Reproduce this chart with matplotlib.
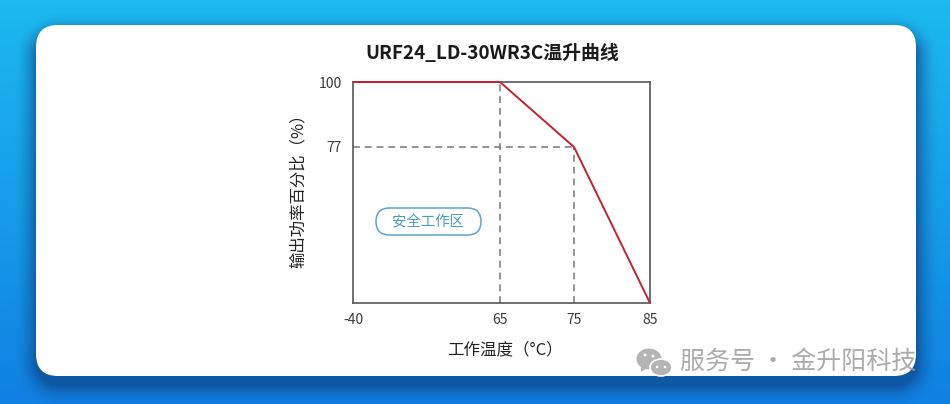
import numpy as np
import matplotlib
matplotlib.use('Agg')
import matplotlib.pyplot as plt
from matplotlib.patches import FancyBboxPatch, Ellipse, Polygon

plt.rcParams['font.family'] = ['Noto Sans CJK SC', 'DejaVu Sans']

# data
temps = [-40, 65, 75, 85]
power = [100, 100, 77, 0]
x_ticks = [-40, 65, 75, 85]
x_labels = ['-40', '65', '75', '85']
y_ticks = [77, 100]
y_labels = ['77', '100']
title = 'URF24_LD-30WR3C温升曲线'
xlabel = '工作温度（°C）'
ylabel = '输出功率百分比（%）'
zone_label = '安全工作区'
watermark = '服务号 · 金升阳科技'

# the axes are not linear, these are the spacings read from the picture
x_scale_in = [-40, 65, 75, 85]
x_scale_out = [0, 147, 221, 297]
y_scale_in = [0, 77, 100]
y_scale_out = [0, 156, 221]

W, H = 950, 404
fig = plt.figure(figsize=(W / 100, H / 100), dpi=100)

# %% background with gradient and card shadow
bg = fig.add_axes([0, 0, 1, 1])
bg.set_xlim(0, W)
bg.set_ylim(H, 0)
bg.axis('off')

yy, xx = np.mgrid[0:H, 0:W]
t = (yy / (H - 1))[..., None]
top = np.array([28, 186, 240]) / 255
bottom = np.array([16, 128, 226]) / 255
img = top * (1 - t) + bottom * t


def card_dist(dx, dy):
    cx, cy = 476 + dx, 200.5 + dy
    qx = np.abs(xx - cx) - (440 - 22)
    qy = np.abs(yy - cy) - (175.5 - 22)
    return np.hypot(np.maximum(qx, 0), np.maximum(qy, 0)) + np.minimum(np.maximum(qx, qy), 0) - 22


shadow = np.clip(1 - card_dist(0, 9) / 24, 0, 1) ** 2 * 0.62
shadow = shadow[..., None]
img = img * (1 - shadow) + np.array([12, 62, 125]) / 255 * shadow
bg.imshow(img, extent=(0, W, H, 0), aspect='auto', interpolation='bilinear', zorder=0)
bg.set_xlim(0, W)
bg.set_ylim(H, 0)

card = FancyBboxPatch((36 + 22, 25 + 22), 880 - 44, 351 - 44,
                      boxstyle='round,pad=22,rounding_size=22',
                      fc='white', ec='none', zorder=1)
bg.add_patch(card)

# %% titles and labels
bg.text(492.5, 53.5, title, fontsize=13.6, fontweight='bold', color='#1a1a1a',
        ha='center', va='center', zorder=3)
bg.text(504.5, 350, xlabel, fontsize=11.9, color='#222222', ha='center', va='center', zorder=3)
bg.text(298, 187, ylabel, fontsize=11.8, color='#222222', rotation=90,
        ha='center', va='center', zorder=3)

# %% main chart
ax = fig.add_axes([353 / W, (H - 303) / H, 297 / W, 221 / H], facecolor='none')
ax.set_xscale('function', functions=(lambda v: np.interp(v, x_scale_in, x_scale_out),
                                     lambda v: np.interp(v, x_scale_out, x_scale_in)))
ax.set_yscale('function', functions=(lambda v: np.interp(v, y_scale_in, y_scale_out),
                                     lambda v: np.interp(v, y_scale_out, y_scale_in)))
ax.set_xlim(-40, 85)
ax.set_ylim(0, 100)

ax.plot([temps[1], temps[1]], [0, power[1]], color='#777777', lw=1.1, dashes=(4.5, 3.2), zorder=2)
ax.plot([temps[2], temps[2]], [0, power[2]], color='#777777', lw=1.1, dashes=(4.5, 3.2), zorder=2)
ax.plot([temps[0], temps[2]], [power[2], power[2]], color='#777777', lw=1.1, dashes=(4.5, 3.2), zorder=2)
ax.plot(temps, power, color='#c4222e', lw=1.4, zorder=4, clip_on=False, solid_capstyle='butt')

ax.set_xticks(x_ticks, x_labels)
ax.set_yticks(y_ticks, y_labels)
ax.minorticks_off()
ax.tick_params(axis='both', length=0, labelsize=10, labelcolor='#3a3a3a')
ax.tick_params(axis='x', pad=7)
ax.tick_params(axis='y', pad=8)
for s in ax.spines.values():
    s.set_color('#565656')
    s.set_linewidth(1.2)

# %% pill label
over = fig.add_axes([0, 0, 1, 1], facecolor='none')
over.set_xlim(0, W)
over.set_ylim(H, 0)
over.axis('off')
pill = FancyBboxPatch((376 + 13.5, 208 + 13.5), 105 - 27, 0,
                      boxstyle='round,pad=13.5,rounding_size=13.5',
                      fc='white', ec='#5aa5cb', lw=1.1, zorder=2)
over.add_patch(pill)
over.text(428, 222, zone_label, fontsize=10.4, color='#4a9cc6', ha='center', va='center', zorder=3)

# %% watermark
over.text(680, 362, watermark, fontsize=18, color='#a2a2a2', alpha=0.9, ha='left', va='center', zorder=5)
gray = '#b4b4b4'
over.add_patch(Ellipse((649, 359), 25, 21, fc=gray, ec='white', lw=0, zorder=5))
over.add_patch(Polygon([[641, 366], [647, 368], [641, 372]], closed=True, fc=gray, ec='none', zorder=5))
over.add_patch(Ellipse((661, 367.5), 22, 17, fc=gray, ec='white', lw=1.2, zorder=6))
for px, py, c, r in [(645, 355, 'white', 3), (653, 356, 'white', 3), (657, 367, '#ffffff', 2.6), (665, 367, '#ffffff', 2.6)]:
    over.add_patch(Ellipse((px, py), r, r, fc=c, ec='none', zorder=7))

fig.savefig('out.png', dpi=100)
